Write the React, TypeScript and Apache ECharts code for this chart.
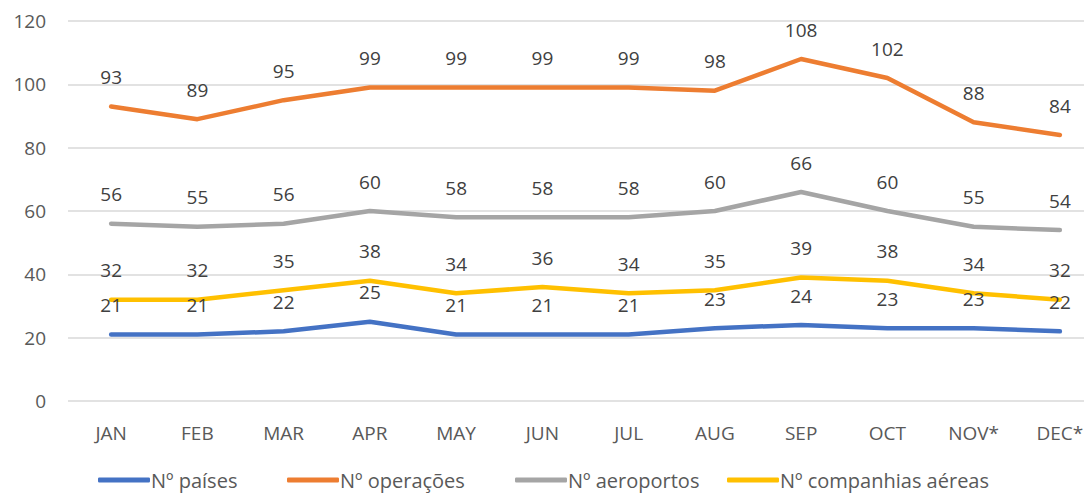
import React, { useEffect, useRef } from "react";
import * as echarts from "echarts";

const months = ["JAN", "FEB", "MAR", "APR", "MAY", "JUN", "JUL", "AUG", "SEP", "OCT", "NOV*", "DEC*"];
const paises = [21, 21, 22, 25, 21, 21, 21, 23, 24, 23, 23, 22];
const operacoes = [93, 89, 95, 99, 99, 99, 99, 98, 108, 102, 88, 84];
const aeroportos = [56, 55, 56, 60, 58, 58, 58, 60, 66, 60, 55, 54];
const companhias = [32, 32, 35, 38, 34, 36, 34, 35, 39, 38, 34, 32];

const names = ["Nº países", "Nº operações", "Nº aeroportos", "Nº companhias aéreas"];
const colors = ["#4472C4", "#ED7D31", "#A5A5A5", "#FFC000"];
const legendLefts = [98, 287, 515, 727];

const FONT = "'Open Sans', 'Noto Sans', sans-serif";

export default function App() {
  const ref = useRef<HTMLDivElement>(null);
  useEffect(() => {
    if (!ref.current) return;
    const chart = echarts.init(ref.current, null, { renderer: "svg" });
    const mk = (name: string, data: number[], color: string) => ({
      name,
      type: "line",
      data,
      symbol: "circle",
      symbolSize: 0,
      showSymbol: true,
      itemStyle: { color },
      lineStyle: { color, width: 4.5, cap: "round", join: "round" },
      label: {
        show: true,
        position: "top",
        distance: 20,
        color: "#404040",
        fontSize: 19,
        fontFamily: FONT,
      },
      emphasis: { disabled: true },
    });
    const all = [paises, operacoes, aeroportos, companhias];
    chart.setOption({
      animation: false,
      textStyle: { fontFamily: FONT },
      grid: { left: 68, top: 21, width: 1035, height: 380, containLabel: false },
      xAxis: {
        type: "category",
        data: months,
        boundaryGap: true,
        axisLine: { show: false },
        axisTick: { show: false },
        axisLabel: { color: "#595959", fontSize: 19, margin: 22, fontFamily: FONT },
      },
      yAxis: {
        type: "value",
        min: 0,
        max: 120,
        interval: 20,
        axisLine: { show: false },
        axisTick: { show: false },
        axisLabel: { color: "#595959", fontSize: 19, margin: 22, fontFamily: FONT },
        splitLine: { lineStyle: { color: "#D9D9D9", width: 1.5 } },
      },
      legend: names.map((n, i) => ({
        left: legendLefts[i],
        top: 470,
        padding: 0,
        itemWidth: 52,
        itemHeight: 5,
        icon: "roundRect",
        itemStyle: { color: colors[i], opacity: 1 },
        textStyle: { color: "#595959", fontSize: 20, fontFamily: FONT, padding: [0, 0, 0, -4] },
        data: [{ name: n, itemStyle: { color: colors[i], opacity: 1 } }],
      })),
      series: names.map((n, i) => mk(n, all[i], colors[i])),
    });
    return () => chart.dispose();
  }, []);
  return (
    <div style={{ position: "fixed", left: 0, top: 0, width: 1084, height: 494, overflow: "hidden", background: "#fff" }}>
      <div ref={ref} style={{ width: 1110, height: 494 }} />
    </div>
  );
}
